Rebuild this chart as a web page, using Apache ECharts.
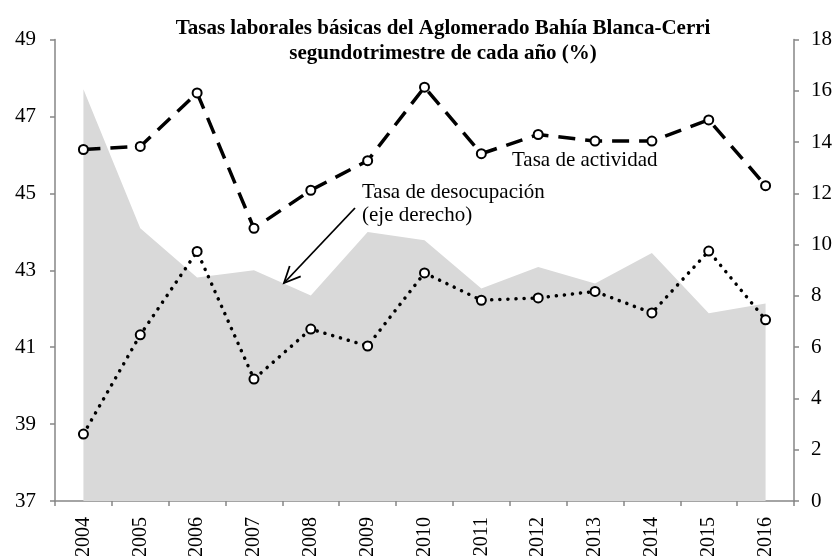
<!DOCTYPE html>
<html><head><meta charset="utf-8">
<script src="https://cdn.jsdelivr.net/npm/echarts@6/dist/echarts.min.js"></script>
<style>html,body{margin:0;padding:0;background:#fff}#c{width:834px;height:556px}</style>
</head><body><div id="c"></div>
<script>
var years = ['2004','2005','2006','2007','2008','2009','2010','2011','2012','2013','2014','2015','2016'];
var actividad = [46.14,46.22,47.61,44.09,45.08,45.85,47.76,46.03,46.53,46.36,46.36,46.91,45.20];
var empleo = [38.74,41.32,43.49,40.17,41.47,41.03,42.93,42.22,42.28,42.45,41.89,43.50,41.71];
var desocupacion = [16.06,10.64,8.72,9.00,8.02,10.49,10.17,8.29,9.13,8.48,9.67,7.32,7.70];
var leftTicks = [37,49,2];
var rightTicks = [0,18,2];

var FONT = '"Liberation Serif", "Times New Roman", serif';
var chart = echarts.init(document.getElementById('c'), null, {renderer:'canvas'});
var axisLine = {show:true, lineStyle:{color:'#868686', width:1.5}};
chart.setOption({
  animation:false,
  title:{
    text:'Tasas laborales básicas del Aglomerado Bahía Blanca-Cerri\nsegundotrimestre de cada año (%)',
    left:438, top:11, textAlign:'center',
    textStyle:{fontFamily:FONT, fontWeight:'bold', fontSize:21, color:'#000', lineHeight:25}
  },
  grid:{left:55, right:40, top:39.5, bottom:55, containLabel:false, outerBoundsMode:'none'},
  xAxis:{
    type:'category', data:years, boundaryGap:true,
    axisLine:axisLine,
    axisTick:{show:true, interval:0, length:5, lineStyle:{color:'#868686', width:1.5}},
    axisLabel:{rotate:90, interval:0, fontFamily:FONT, fontSize:20, color:'#000', margin:16},
    splitLine:{show:false}
  },
  yAxis:[
    {type:'value', min:leftTicks[0], max:leftTicks[1], interval:leftTicks[2], position:'left',
     axisLine:axisLine, axisTick:{show:true, length:5, lineStyle:{color:'#868686', width:1.5}},
     axisLabel:{fontFamily:FONT, fontSize:21, color:'#000', margin:19}, splitLine:{show:false}},
    {type:'value', min:rightTicks[0], max:rightTicks[1], interval:rightTicks[2], position:'right',
     axisLine:axisLine, axisTick:{show:true, length:5, lineStyle:{color:'#868686', width:1.5}},
     axisLabel:{fontFamily:FONT, fontSize:21, color:'#000', margin:17}, splitLine:{show:false}}
  ],
  series:[
    {name:'Tasa de desocupación', type:'line', yAxisIndex:1, data:desocupacion, showSymbol:false,
     lineStyle:{width:0}, areaStyle:{color:'#d9d9d9', opacity:1}, z:1},
    {name:'Tasa de actividad', type:'line', yAxisIndex:0, data:actividad, symbol:'circle', symbolSize:9,
     itemStyle:{color:'#fff', borderColor:'#000', borderWidth:2},
     lineStyle:{color:'#000', width:3.5, type:[17,10]}, z:3},
    {name:'Tasa de empleo', type:'line', yAxisIndex:0, data:empleo, symbol:'circle', symbolSize:9,
     itemStyle:{color:'#fff', borderColor:'#000', borderWidth:2},
     lineStyle:{color:'#000', width:3.5, type:[0.1,8], cap:'round'}, z:3}
  ],
  graphic:[
    {type:'text', left:512, top:150, style:{text:'Tasa de actividad', font:'21px '+FONT, fill:'#000'}},
    {type:'text', left:362, top:181, style:{text:'Tasa de desocupación\n(eje derecho)', font:'21px '+FONT, fill:'#000', lineHeight:23}},
    {type:'text', left:118, top:395, style:{text:'Tasa de empleo', font:'21px '+FONT, fill:'#000'}},
    {type:'line', shape:{x1:355, y1:208, x2:284, y2:283}, style:{stroke:'#000', lineWidth:1.8}, z:10},
    {type:'polyline', shape:{points:[[289.7,266],[284,283],[300.7,276.4]]}, style:{stroke:'#000', lineWidth:1.8, fill:null}, z:10}
  ]
});
</script></body></html>
